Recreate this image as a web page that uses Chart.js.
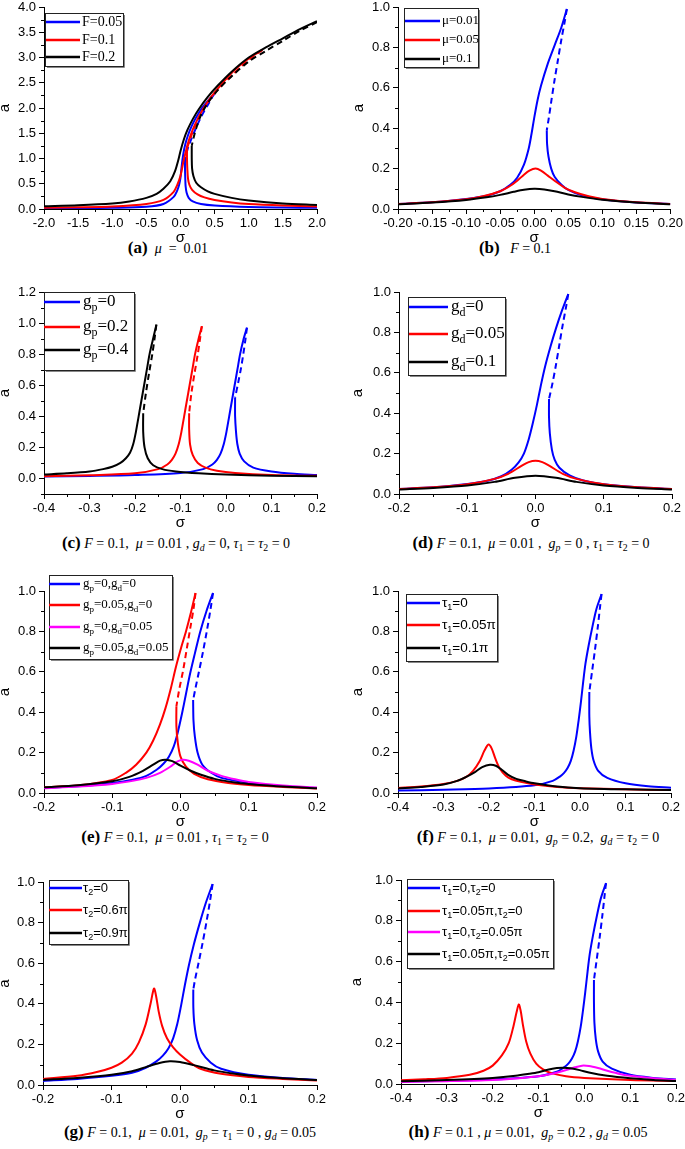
<!DOCTYPE html>
<html>
<head>
<meta charset="utf-8">
<script src="https://cdn.jsdelivr.net/npm/chart.js@4.4.1/dist/chart.umd.min.js"></script>
<style>
  body { margin: 0; background: #fff; width: 685px; height: 1149px; position: relative; overflow: hidden; }
  .cap { position: absolute; transform: translate(-50%, -50%); white-space: nowrap;
         font-family: "Liberation Serif", "Times New Roman", serif; font-size: 14px; color: #000; }
  .cap b { font-size: 17px; }
  .cap sub { font-size: 70%; vertical-align: -0.3em; line-height: 0; }
</style>
</head>
<body>
<div class="cap" style="left:168px;top:248px"><b>(a)</b>&nbsp;&nbsp;<i>μ</i>&nbsp; = &nbsp;0.01</div>
<div class="cap" style="left:515px;top:248px"><b>(b)</b>&nbsp;&nbsp; <i>F</i> = 0.1</div>
<div class="cap" style="left:176px;top:543px"><b>(c)</b> <i>F</i> = 0.1,&nbsp; <i>μ</i> = 0.01 , <i>g<sub>d</sub></i> = 0, <i>τ</i><sub>1</sub> = <i>τ</i><sub>2</sub> = 0</div>
<div class="cap" style="left:531px;top:543px"><b>(d)</b> <i>F</i> = 0.1,&nbsp; <i>μ</i> = 0.01 ,&nbsp; <i>g<sub>p</sub></i> = 0 , <i>τ</i><sub>1</sub> = <i>τ</i><sub>2</sub> = 0</div>
<div class="cap" style="left:175px;top:837px"><b>(e)</b> <i>F</i> = 0.1,&nbsp; <i>μ</i> = 0.01 , <i>τ</i><sub>1</sub> = <i>τ</i><sub>2</sub> = 0</div>
<div class="cap" style="left:538px;top:837px"><b>(f)</b> <i>F</i> = 0.1,&nbsp; <i>μ</i> = 0.01,&nbsp; <i>g<sub>p</sub></i> = 0.2,&nbsp; <i>g<sub>d</sub></i> = <i>τ</i><sub>2</sub> = 0</div>
<div class="cap" style="left:190px;top:1132px"><b>(g)</b> <i>F</i> = 0.1,&nbsp; <i>μ</i> = 0.01,&nbsp; <i>g<sub>p</sub></i> = <i>τ</i><sub>1</sub> = 0 , <i>g<sub>d</sub></i> = 0.05</div>
<div class="cap" style="left:528px;top:1132px"><b>(h)</b> <i>F</i> = 0.1 , <i>μ</i> = 0.01,&nbsp; <i>g<sub>p</sub></i> = 0.2 , <i>g<sub>d</sub></i> = 0.05</div>

<script>
// ---- data: [sigma, a] points ----

// (a) mu = 0.01
const aBlueUp   = [[-2,0.012],[-1.5,0.016],[-1,0.024],[-0.5,0.046],[-0.25,0.1],[-0.1,0.24],[-0.05,0.36],[-0.02,0.48],[0,0.62],[0.02,0.88],[0.04,1.08],[0.07,1.28],[0.11,1.46],[0.16,1.63],[0.22,1.79],[0.3,1.97],[0.4,2.14],[0.5,2.29]];
const aBlueDash = [[0.5,2.29],[0.45,2.18],[0.4,2.06],[0.3,1.82],[0.2,1.52],[0.12,1.25],[0.085,1.1],[0.066,1.03]];
const aBlueLow  = [[0.066,1.03],[0.066,0.8],[0.07,0.6],[0.075,0.45],[0.09,0.32],[0.12,0.22],[0.18,0.15],[0.3,0.1],[0.5,0.07],[1,0.04],[1.5,0.03],[2,0.025]];
const aRedUp    = [[-2,0.025],[-1.5,0.033],[-1,0.05],[-0.5,0.1],[-0.25,0.18],[-0.1,0.34],[-0.05,0.47],[0,0.66],[0.04,0.92],[0.08,1.15],[0.12,1.35],[0.18,1.57],[0.25,1.78],[0.35,2.02],[0.45,2.22],[0.6,2.47],[0.8,2.76],[1.0,2.98],[1.2,3.15]];
const aRedDash  = [[1.2,3.15],[1.0,2.96],[0.75,2.64],[0.6,2.44],[0.5,2.29],[0.4,2.11],[0.3,1.9],[0.2,1.6],[0.15,1.42],[0.11,1.26],[0.095,1.2]];
const aRedLow   = [[0.095,1.2],[0.095,1.0],[0.1,0.8],[0.11,0.6],[0.13,0.48],[0.17,0.38],[0.25,0.29],[0.35,0.23],[0.5,0.18],[0.75,0.13],[1,0.1],[1.5,0.07],[2,0.05]];
const aBlackUp  = [[-2,0.055],[-1.5,0.075],[-1,0.11],[-0.75,0.15],[-0.5,0.22],[-0.35,0.3],[-0.25,0.4],[-0.15,0.55],[-0.08,0.75],[-0.03,0.98],[0,1.15],[0.05,1.38],[0.1,1.56],[0.18,1.78],[0.27,1.98],[0.4,2.22],[0.55,2.45],[0.75,2.72],[1,3.0],[1.25,3.2],[1.5,3.38],[1.75,3.56],[2,3.72]];
const aBlackDash= [[2,3.7],[1.75,3.53],[1.5,3.33],[1.25,3.13],[1.0,2.92],[0.75,2.63],[0.55,2.36],[0.4,2.1],[0.3,1.86],[0.23,1.6],[0.19,1.4],[0.165,1.25]];
const aBlackLow = [[0.165,1.25],[0.165,1.0],[0.17,0.8],[0.19,0.65],[0.23,0.52],[0.3,0.43],[0.4,0.35],[0.5,0.3],[0.75,0.22],[1,0.17],[1.5,0.11],[2,0.08]];

// (b) F = 0.1
const bBlueUp   = [[-0.2,0.025],[-0.15,0.033],[-0.1,0.05],[-0.07,0.066],[-0.05,0.088],[-0.035,0.12],[-0.025,0.155],[-0.015,0.22],[-0.008,0.3],[-0.004,0.37],[0,0.45],[0.005,0.54],[0.01,0.61],[0.02,0.72],[0.03,0.81],[0.04,0.9],[0.048,0.99]];
const bBlueDash = [[0.048,0.99],[0.045,0.93],[0.04,0.84],[0.035,0.74],[0.03,0.64],[0.025,0.53],[0.021,0.44],[0.0185,0.39]];
const bBlueLow  = [[0.0185,0.39],[0.019,0.32],[0.021,0.26],[0.025,0.2],[0.03,0.16],[0.04,0.12],[0.05,0.095],[0.07,0.068],[0.1,0.048],[0.15,0.032],[0.2,0.025]];
const bRed      = [[-0.2,0.025],[-0.15,0.033],[-0.1,0.048],[-0.075,0.063],[-0.05,0.088],[-0.035,0.115],[-0.025,0.14],[-0.015,0.17],[-0.007,0.19],[0.002,0.2],[0.01,0.19],[0.02,0.165],[0.03,0.14],[0.045,0.105],[0.06,0.083],[0.08,0.063],[0.1,0.05],[0.15,0.033],[0.2,0.025]];
const bBlack    = [[-0.2,0.023],[-0.15,0.032],[-0.1,0.045],[-0.07,0.058],[-0.05,0.07],[-0.03,0.085],[-0.015,0.095],[0,0.1],[0.015,0.097],[0.03,0.088],[0.05,0.072],[0.07,0.06],[0.1,0.046],[0.15,0.032],[0.2,0.024]];

// (c) g_p
const cBlueUp   = [[-0.4,0.012],[-0.3,0.016],[-0.2,0.022],[-0.1,0.035],[-0.05,0.06],[-0.03,0.09],[-0.02,0.12],[-0.012,0.16],[-0.005,0.22],[0.001,0.3],[0.007,0.4],[0.013,0.5],[0.019,0.6],[0.025,0.7],[0.031,0.8],[0.038,0.89],[0.046,0.97]];
const cBlueDash = [[0.046,0.97],[0.043,0.9],[0.038,0.8],[0.033,0.71],[0.027,0.62],[0.02,0.52]];
const cBlueLow  = [[0.02,0.52],[0.02,0.4],[0.022,0.3],[0.025,0.22],[0.03,0.16],[0.04,0.11],[0.06,0.07],[0.1,0.045],[0.15,0.03],[0.2,0.022]];
const cRedUp    = [[-0.4,0.014],[-0.3,0.021],[-0.2,0.033],[-0.149,0.06],[-0.129,0.09],[-0.119,0.12],[-0.111,0.16],[-0.104,0.22],[-0.098,0.3],[-0.092,0.4],[-0.086,0.5],[-0.08,0.6],[-0.074,0.7],[-0.068,0.8],[-0.061,0.89],[-0.053,0.98]];
const cRedDash  = [[-0.053,0.98],[-0.057,0.9],[-0.062,0.8],[-0.069,0.68],[-0.076,0.55],[-0.081,0.42]];
const cRedLow   = [[-0.081,0.42],[-0.081,0.32],[-0.079,0.22],[-0.073,0.15],[-0.062,0.1],[-0.045,0.07],[-0.02,0.05],[0.02,0.035],[0.1,0.022],[0.2,0.017]];
const cBlackUp  = [[-0.4,0.025],[-0.35,0.033],[-0.3,0.045],[-0.27,0.06],[-0.25,0.075],[-0.232,0.1],[-0.22,0.13],[-0.211,0.165],[-0.204,0.22],[-0.198,0.3],[-0.192,0.4],[-0.186,0.5],[-0.18,0.6],[-0.174,0.7],[-0.168,0.8],[-0.161,0.89],[-0.153,0.99]];
const cBlackDash= [[-0.153,0.99],[-0.157,0.9],[-0.162,0.8],[-0.169,0.68],[-0.176,0.55],[-0.182,0.42]];
const cBlackLow = [[-0.182,0.42],[-0.182,0.3],[-0.179,0.2],[-0.172,0.13],[-0.16,0.085],[-0.14,0.06],[-0.11,0.045],[-0.06,0.033],[0,0.025],[0.1,0.018],[0.2,0.014]];

// (d) g_d
const dBlueUp   = [[-0.2,0.025],[-0.15,0.033],[-0.1,0.05],[-0.07,0.066],[-0.05,0.088],[-0.035,0.12],[-0.025,0.155],[-0.017,0.2],[-0.01,0.27],[-0.004,0.35],[0.002,0.44],[0.008,0.54],[0.014,0.63],[0.022,0.73],[0.03,0.82],[0.039,0.91],[0.048,0.99]];
const dBlueDash = [[0.048,0.99],[0.045,0.93],[0.04,0.84],[0.035,0.74],[0.03,0.64],[0.025,0.55],[0.0198,0.47]];
const dBlueLow  = [[0.0198,0.47],[0.0198,0.38],[0.021,0.3],[0.024,0.22],[0.028,0.17],[0.035,0.13],[0.05,0.092],[0.07,0.067],[0.1,0.048],[0.15,0.033],[0.2,0.025]];
const dRed      = [[-0.2,0.025],[-0.15,0.033],[-0.1,0.048],[-0.06,0.075],[-0.04,0.1],[-0.02,0.14],[-0.01,0.158],[0,0.165],[0.01,0.158],[0.02,0.14],[0.04,0.1],[0.06,0.075],[0.1,0.048],[0.15,0.033],[0.2,0.025]];
const dBlack    = [[-0.2,0.022],[-0.15,0.03],[-0.1,0.042],[-0.06,0.06],[-0.03,0.08],[0,0.09],[0.03,0.08],[0.06,0.06],[0.1,0.042],[0.15,0.03],[0.2,0.022]];

// (e) g_p, g_d combined
const eBlueUp   = [[-0.2,0.025],[-0.15,0.033],[-0.1,0.05],[-0.07,0.066],[-0.05,0.085],[-0.035,0.115],[-0.025,0.145],[-0.017,0.18],[-0.01,0.23],[-0.004,0.3],[0.002,0.39],[0.008,0.49],[0.014,0.59],[0.021,0.69],[0.029,0.8],[0.038,0.9],[0.0476,0.99]];
const eBlueDash = [[0.0476,0.99],[0.044,0.91],[0.039,0.81],[0.033,0.7],[0.027,0.6],[0.022,0.52],[0.0185,0.46]];
const eBlueLow  = [[0.0185,0.46],[0.019,0.36],[0.021,0.28],[0.025,0.2],[0.032,0.14],[0.045,0.1],[0.06,0.075],[0.1,0.05],[0.15,0.033],[0.2,0.025]];
const eRedUp    = [[-0.2,0.028],[-0.15,0.038],[-0.1,0.065],[-0.08,0.1],[-0.065,0.14],[-0.05,0.2],[-0.04,0.26],[-0.03,0.34],[-0.022,0.42],[-0.014,0.52],[-0.007,0.62],[0.001,0.72],[0.008,0.8],[0.015,0.89],[0.022,0.99]];
const eRedDash  = [[0.022,0.99],[0.019,0.91],[0.014,0.81],[0.009,0.71],[0.004,0.61],[-0.002,0.51],[-0.006,0.43]];
const eRedLow   = [[-0.006,0.43],[-0.006,0.33],[-0.004,0.25],[0,0.18],[0.008,0.13],[0.02,0.095],[0.04,0.068],[0.07,0.05],[0.1,0.04],[0.15,0.03],[0.2,0.022]];
const eMagenta  = [[-0.2,0.024],[-0.15,0.032],[-0.1,0.045],[-0.07,0.06],[-0.05,0.075],[-0.03,0.1],[-0.015,0.13],[-0.005,0.155],[0.003,0.165],[0.012,0.16],[0.025,0.14],[0.04,0.11],[0.06,0.085],[0.08,0.068],[0.1,0.055],[0.15,0.037],[0.2,0.027]];
const eBlack    = [[-0.2,0.028],[-0.15,0.038],[-0.1,0.058],[-0.075,0.08],[-0.055,0.11],[-0.04,0.14],[-0.03,0.16],[-0.022,0.165],[-0.012,0.158],[0,0.135],[0.015,0.11],[0.03,0.09],[0.05,0.07],[0.08,0.052],[0.1,0.045],[0.15,0.032],[0.2,0.024]];

// (f) tau_1
const fBlueUp   = [[-0.4,0.012],[-0.3,0.016],[-0.2,0.022],[-0.1,0.038],[-0.06,0.06],[-0.045,0.08],[-0.035,0.1],[-0.027,0.125],[-0.02,0.16],[-0.014,0.21],[-0.008,0.28],[-0.003,0.36],[0.002,0.45],[0.007,0.55],[0.012,0.64],[0.019,0.73],[0.027,0.82],[0.036,0.91],[0.0474,0.985]];
const fBlueDash = [[0.0474,0.985],[0.044,0.92],[0.039,0.82],[0.033,0.71],[0.027,0.61],[0.0205,0.5]];
const fBlueLow  = [[0.0205,0.5],[0.0205,0.38],[0.022,0.3],[0.025,0.22],[0.03,0.16],[0.04,0.11],[0.06,0.075],[0.1,0.048],[0.15,0.033],[0.2,0.026]];
const fRed      = [[-0.4,0.025],[-0.35,0.032],[-0.3,0.045],[-0.27,0.06],[-0.25,0.08],[-0.235,0.11],[-0.22,0.16],[-0.21,0.21],[-0.201,0.24],[-0.194,0.22],[-0.186,0.17],[-0.176,0.12],[-0.163,0.085],[-0.15,0.068],[-0.13,0.055],[-0.1,0.042],[-0.05,0.03],[0,0.024],[0.1,0.018],[0.2,0.015]];
const fBlack    = [[-0.4,0.022],[-0.35,0.03],[-0.3,0.042],[-0.27,0.06],[-0.25,0.08],[-0.23,0.105],[-0.215,0.128],[-0.198,0.14],[-0.185,0.135],[-0.172,0.115],[-0.158,0.09],[-0.14,0.07],[-0.12,0.058],[-0.1,0.048],[-0.05,0.032],[0,0.024],[0.1,0.018],[0.2,0.015]];

// (g) tau_2
const gBlueUp   = [[-0.2,0.02],[-0.15,0.03],[-0.1,0.045],[-0.07,0.06],[-0.05,0.085],[-0.035,0.115],[-0.025,0.145],[-0.017,0.18],[-0.01,0.23],[-0.004,0.3],[0.0015,0.39],[0.007,0.49],[0.013,0.59],[0.02,0.69],[0.029,0.8],[0.038,0.9],[0.0476,0.99]];
const gBlueDash = [[0.0476,0.99],[0.044,0.91],[0.039,0.81],[0.033,0.7],[0.027,0.6],[0.022,0.52],[0.0194,0.47]];
const gBlueLow  = [[0.0194,0.47],[0.0195,0.38],[0.021,0.3],[0.025,0.22],[0.032,0.16],[0.045,0.11],[0.06,0.08],[0.1,0.05],[0.15,0.035],[0.2,0.025]];
const gRed      = [[-0.2,0.03],[-0.15,0.045],[-0.12,0.065],[-0.1,0.085],[-0.085,0.11],[-0.07,0.155],[-0.06,0.21],[-0.05,0.3],[-0.043,0.4],[-0.038,0.475],[-0.035,0.44],[-0.031,0.36],[-0.026,0.29],[-0.019,0.23],[-0.01,0.185],[0,0.15],[0.015,0.11],[0.03,0.08],[0.06,0.055],[0.1,0.04],[0.15,0.03],[0.2,0.022]];
const gBlack    = [[-0.2,0.025],[-0.15,0.035],[-0.1,0.05],[-0.07,0.068],[-0.05,0.088],[-0.03,0.108],[-0.015,0.117],[0,0.113],[0.02,0.098],[0.05,0.072],[0.08,0.055],[0.1,0.047],[0.15,0.033],[0.2,0.025]];

// (h) tau_1, tau_2 combined
const hBlueUp   = [[-0.4,0.012],[-0.3,0.016],[-0.2,0.022],[-0.1,0.038],[-0.06,0.06],[-0.045,0.08],[-0.035,0.1],[-0.027,0.125],[-0.02,0.16],[-0.014,0.21],[-0.008,0.28],[-0.003,0.36],[0.002,0.45],[0.007,0.55],[0.012,0.64],[0.019,0.73],[0.027,0.82],[0.036,0.91],[0.0473,0.985]];
const hBlueDash = [[0.0473,0.985],[0.044,0.92],[0.039,0.82],[0.033,0.71],[0.027,0.61],[0.021,0.51]];
const hBlueLow  = [[0.021,0.51],[0.021,0.4],[0.022,0.3],[0.025,0.22],[0.03,0.16],[0.04,0.11],[0.06,0.075],[0.1,0.045],[0.15,0.03],[0.2,0.022]];
const hRed      = [[-0.4,0.018],[-0.35,0.023],[-0.3,0.03],[-0.25,0.045],[-0.22,0.065],[-0.2,0.09],[-0.18,0.14],[-0.165,0.2],[-0.155,0.28],[-0.148,0.35],[-0.143,0.39],[-0.139,0.36],[-0.134,0.29],[-0.127,0.21],[-0.118,0.15],[-0.105,0.1],[-0.09,0.072],[-0.07,0.052],[-0.04,0.038],[0,0.03],[0.1,0.02],[0.2,0.015]];
const hMagenta  = [[-0.4,0.01],[-0.3,0.014],[-0.2,0.02],[-0.15,0.027],[-0.1,0.038],[-0.07,0.05],[-0.04,0.068],[-0.02,0.082],[-0.005,0.09],[0.01,0.088],[0.03,0.078],[0.05,0.065],[0.08,0.048],[0.1,0.04],[0.15,0.028],[0.2,0.02]];
const hBlack    = [[-0.4,0.013],[-0.3,0.02],[-0.2,0.03],[-0.15,0.04],[-0.12,0.05],[-0.1,0.058],[-0.08,0.07],[-0.06,0.078],[-0.045,0.08],[-0.03,0.077],[-0.01,0.068],[0.01,0.056],[0.05,0.04],[0.1,0.028],[0.15,0.02],[0.2,0.015]];

// tick values
const ticksA_x = [-2,-1.5,-1,-0.5,0,0.5,1,1.5,2];
const ticksA_y = [0,0.5,1,1.5,2,2.5,3,3.5,4];
const ticksB_x = [-0.2,-0.15,-0.1,-0.05,0,0.05,0.1,0.15,0.2];
const ticksWide_x = [-0.4,-0.3,-0.2,-0.1,0,0.1,0.2];
const ticksNarrow_x = [-0.2,-0.1,0,0.1,0.2];
const ticksUnit_y = [0,0.2,0.4,0.6,0.8,1.0];
const ticksC_y = [0,0.2,0.4,0.6,0.8,1.0,1.2];

// legend labels ("_" puts the next char in subscript)
const labelsA = ['F=0.05','F=0.1','F=0.2'];
const labelsB = ['μ=0.01','μ=0.05','μ=0.1'];
const labelsC = ['g_p=0','g_p=0.2','g_p=0.4'];
const labelsD = ['g_d=0','g_d=0.05','g_d=0.1'];
const labelsE = ['g_p=0,g_d=0','g_p=0.05,g_d=0','g_p=0,g_d=0.05','g_p=0.05,g_d=0.05'];
const labelsF = ['τ_1=0','τ_1=0.05π','τ_1=0.1π'];
const labelsG = ['τ_2=0','τ_2=0.6π','τ_2=0.9π'];
const labelsH = ['τ_1=0,τ_2=0','τ_1=0.05π,τ_2=0','τ_1=0,τ_2=0.05π','τ_1=0.05π,τ_2=0.05π'];

const SANS = '"Liberation Sans", Arial, sans-serif';
const SERIF = '"Liberation Serif", "Times New Roman", serif';
const BLUE = '#0000ff', RED = '#ff0000', BLACK = '#000000', MAGENTA = '#ff00ff';

function curve(pts, color, dashed, layer) {
    return {
        data: pts.map(p => ({ x: p[0], y: p[1] })),
        borderColor: color,
        backgroundColor: color,
        borderWidth: 2,
        borderDash: dashed ? [6, 4] : [],
        showLine: true,
        pointRadius: 0,
        tension: 0.3,
        order: 10 - layer      // later series drawn on top
    };
}

// text with single-char subscripts
function drawRich(ctx, text, x, y, size, family) {
    let cx = x;
    for (let i = 0; i < text.length; i++) {
        let ch = text[i], sub = false;
        if (ch === '_') { ch = text[++i]; sub = true; }
        ctx.font = (sub ? Math.round(size * 0.7) : size) + 'px ' + family;
        ctx.fillText(ch, cx, sub ? y + size * 0.35 : y);
        cx += ctx.measureText(ch).width;
    }
}

function makePanel(p) {
    const x = p.titleX - 9, y = p.T - 20;
    const w = p.R + 14 - x, h = p.B + 38 - y;
    const cv = document.createElement('canvas');
    cv.width = w; cv.height = h;
    cv.style.cssText = `position:absolute;left:${x}px;top:${y}px;width:${w}px;height:${h}px`;
    document.body.appendChild(cv);

    const minorTicks = {
        id: 'minorTicks',
        afterDraw(chart) {
            const ctx = chart.ctx;
            ctx.save();
            ctx.strokeStyle = '#000';
            ctx.lineWidth = 1;
            [['x', p.xMinor], ['y', p.yMinor]].forEach(([id, step]) => {
                const s = chart.scales[id];
                for (let k = Math.ceil(s.min / step - 1e-6); k <= Math.floor(s.max / step + 1e-6); k++) {
                    const v = k * step;
                    if (s.ticks.some(t => Math.abs(t.value - v) < step / 10)) continue;
                    const px = Math.round(s.getPixelForValue(v)) + 0.5;
                    ctx.beginPath();
                    if (id === 'x') { ctx.moveTo(px, s.top); ctx.lineTo(px, s.top + 3); }
                    else { ctx.moveTo(s.right, px); ctx.lineTo(s.right - 3, px); }
                    ctx.stroke();
                }
            });
            ctx.restore();
        }
    };

    const lg = p.legend;
    const boxLegend = {
        id: 'boxLegend',
        afterDraw(chart) {
            const ctx = chart.ctx;
            ctx.save();
            const bx0 = lg.box[0] - x, by0 = lg.box[1] - y, bx1 = lg.box[2] - x, by1 = lg.box[3] - y;
            ctx.fillStyle = '#fff';
            ctx.fillRect(bx0, by0, bx1 - bx0, by1 - by0);
            ctx.strokeStyle = '#888';
            ctx.lineWidth = 1;
            ctx.beginPath();
            ctx.moveTo(bx1 + 1.5, by0 + 2); ctx.lineTo(bx1 + 1.5, by1 + 1.5); ctx.lineTo(bx0 + 2, by1 + 1.5);
            ctx.stroke();
            ctx.strokeStyle = '#222';
            ctx.strokeRect(bx0 + 0.5, by0 + 0.5, bx1 - bx0, by1 - by0);
            ctx.textBaseline = 'middle';
            ctx.fillStyle = '#000';
            lg.labels.forEach((lab, i) => {
                const ry = lg.rows[i] - y;
                ctx.strokeStyle = lg.colors[i];
                ctx.lineWidth = 2.5;
                ctx.beginPath();
                ctx.moveTo(lg.line[0] - x, ry); ctx.lineTo(lg.line[1] - x, ry);
                ctx.stroke();
                drawRich(ctx, lab, lg.textX - x, ry, lg.size, lg.family);
            });
            ctx.restore();
        }
    };

    const tickFont = { family: SANS, size: 13 };
    const titleFont = { family: SANS, size: 15 };

    new Chart(cv, {
        type: 'scatter',
        data: { datasets: p.datasets },
        options: {
            responsive: false,
            animation: false,
            layout: { padding: { top: p.T - y, right: x + w - p.R, left: 0, bottom: 0 } },
            plugins: { legend: { display: false }, tooltip: { enabled: false } },
            scales: {
                x: {
                    type: 'linear', min: p.xMin, max: p.xMax,
                    afterBuildTicks: s => { s.ticks = p.xTicks.map(v => ({ value: v })); },
                    afterFit: s => { s.height = h - (p.B - y); },
                    ticks: { autoSkip: false, maxRotation: 0, padding: 2, font: tickFont, color: '#000',
                             callback: v => v.toFixed(p.xDec) },
                    grid: { drawOnChartArea: false, tickLength: 5, color: '#000' },
                    border: { color: '#000', width: 1 },
                    title: { display: true, text: 'σ', font: titleFont, color: '#000', padding: 0 }
                },
                y: {
                    type: 'linear', min: p.yMin, max: p.yMax,
                    afterBuildTicks: s => { s.ticks = p.yTicks.map(v => ({ value: v })); },
                    afterFit: s => { s.width = p.L - x; },
                    ticks: { autoSkip: false, padding: 3, font: tickFont, color: '#000',
                             callback: v => v.toFixed(1) },
                    grid: { drawOnChartArea: false, tickLength: 5, color: '#000' },
                    border: { color: '#000', width: 1 },
                    title: { display: true, text: 'a', font: titleFont, color: '#000', padding: 0 }
                }
            }
        },
        plugins: [minorTicks, boxLegend]
    });
}

const C3 = [BLUE, RED, BLACK];
const C4 = [BLUE, RED, MAGENTA, BLACK];

window.onload = () => {
    makePanel({
        L: 44, T: 7, R: 317, B: 209, titleX: 5,
        xMin: -2, xMax: 2, yMin: 0, yMax: 4, xTicks: ticksA_x, yTicks: ticksA_y, xDec: 1, xMinor: 0.25, yMinor: 0.25,
        datasets: [
            curve(aBlueUp, BLUE, false, 0), curve(aBlueDash, BLUE, true, 0), curve(aBlueLow, BLUE, false, 0),
            curve(aRedUp, RED, false, 1), curve(aRedDash, RED, true, 1), curve(aRedLow, RED, false, 1),
            curve(aBlackUp, BLACK, false, 2), curve(aBlackDash, BLACK, true, 2), curve(aBlackLow, BLACK, false, 2)
        ],
        legend: { box: [45, 13, 123, 66], line: [46, 80], textX: 82, rows: [22, 40, 57], size: 14, family: SERIF, labels: labelsA, colors: C3 }
    });
    makePanel({
        L: 398, T: 7, R: 671, B: 209, titleX: 359,
        xMin: -0.2, xMax: 0.2, yMin: 0, yMax: 1, xTicks: ticksB_x, yTicks: ticksUnit_y, xDec: 2, xMinor: 0.025, yMinor: 0.1,
        datasets: [
            curve(bBlueUp, BLUE, false, 0), curve(bBlueDash, BLUE, true, 0), curve(bBlueLow, BLUE, false, 0),
            curve(bRed, RED, false, 1), curve(bBlack, BLACK, false, 2)
        ],
        legend: { box: [404, 8, 478, 67], line: [405, 440], textX: 442, rows: [21, 40, 59], size: 13, family: SERIF, labels: labelsB, colors: C3 }
    });
    makePanel({
        L: 44, T: 292, R: 317, B: 494, titleX: 5,
        xMin: -0.4, xMax: 0.2, yMin: -0.1, yMax: 1.2, xTicks: ticksWide_x, yTicks: ticksC_y, xDec: 1, xMinor: 0.05, yMinor: 0.1,
        datasets: [
            curve(cBlueUp, BLUE, false, 0), curve(cBlueDash, BLUE, true, 0), curve(cBlueLow, BLUE, false, 0),
            curve(cRedUp, RED, false, 1), curve(cRedDash, RED, true, 1), curve(cRedLow, RED, false, 1),
            curve(cBlackUp, BLACK, false, 2), curve(cBlackDash, BLACK, true, 2), curve(cBlackLow, BLACK, false, 2)
        ],
        legend: { box: [44, 292, 134, 370], line: [44, 80], textX: 83, rows: [302, 327, 350], size: 17, family: SERIF, labels: labelsC, colors: C3 }
    });
    makePanel({
        L: 399, T: 292, R: 672, B: 494, titleX: 358,
        xMin: -0.2, xMax: 0.2, yMin: 0, yMax: 1, xTicks: ticksNarrow_x, yTicks: ticksUnit_y, xDec: 1, xMinor: 0.05, yMinor: 0.1,
        datasets: [
            curve(dBlueUp, BLUE, false, 0), curve(dBlueDash, BLUE, true, 0), curve(dBlueLow, BLUE, false, 0),
            curve(dRed, RED, false, 1), curve(dBlack, BLACK, false, 2)
        ],
        legend: { box: [408, 297, 505, 375], line: [409, 448], textX: 451, rows: [307, 334, 362], size: 17, family: SERIF, labels: labelsD, colors: C3 }
    });
    makePanel({
        L: 44, T: 591, R: 317, B: 793, titleX: 5,
        xMin: -0.2, xMax: 0.2, yMin: 0, yMax: 1, xTicks: ticksNarrow_x, yTicks: ticksUnit_y, xDec: 1, xMinor: 0.05, yMinor: 0.1,
        datasets: [
            curve(eBlueUp, BLUE, false, 0), curve(eBlueDash, BLUE, true, 0), curve(eBlueLow, BLUE, false, 0),
            curve(eRedUp, RED, false, 1), curve(eRedDash, RED, true, 1), curve(eRedLow, RED, false, 1),
            curve(eMagenta, MAGENTA, false, 2), curve(eBlack, BLACK, false, 3)
        ],
        legend: { box: [49, 575, 172, 659], line: [49, 80], textX: 83, rows: [584, 605, 627, 648], size: 13, family: SERIF, labels: labelsE, colors: C4 }
    });
    makePanel({
        L: 398, T: 591, R: 671, B: 793, titleX: 358,
        xMin: -0.4, xMax: 0.2, yMin: 0, yMax: 1, xTicks: ticksWide_x, yTicks: ticksUnit_y, xDec: 1, xMinor: 0.05, yMinor: 0.1,
        datasets: [
            curve(fBlueUp, BLUE, false, 0), curve(fBlueDash, BLUE, true, 0), curve(fBlueLow, BLUE, false, 0),
            curve(fRed, RED, false, 1), curve(fBlack, BLACK, false, 2)
        ],
        legend: { box: [406, 594, 497, 661], line: [407, 440], textX: 442, rows: [603, 625, 648], size: 13.5, family: SANS, labels: labelsF, colors: C3 }
    });
    makePanel({
        L: 43, T: 882, R: 317, B: 1085, titleX: 5,
        xMin: -0.2, xMax: 0.2, yMin: 0, yMax: 1, xTicks: ticksNarrow_x, yTicks: ticksUnit_y, xDec: 1, xMinor: 0.05, yMinor: 0.1,
        datasets: [
            curve(gBlueUp, BLUE, false, 0), curve(gBlueDash, BLUE, true, 0), curve(gBlueLow, BLUE, false, 0),
            curve(gRed, RED, false, 1), curve(gBlack, BLACK, false, 2)
        ],
        legend: { box: [49, 880, 128, 944], line: [49, 82], textX: 83, rows: [888, 910, 933], size: 13, family: SANS, labels: labelsG, colors: C3 }
    });
    makePanel({
        L: 401, T: 880, R: 676, B: 1084, titleX: 357,
        xMin: -0.4, xMax: 0.2, yMin: 0, yMax: 1, xTicks: ticksWide_x, yTicks: ticksUnit_y, xDec: 1, xMinor: 0.05, yMinor: 0.1,
        datasets: [
            curve(hBlueUp, BLUE, false, 0), curve(hBlueDash, BLUE, true, 0), curve(hBlueLow, BLUE, false, 0),
            curve(hRed, RED, false, 1), curve(hMagenta, MAGENTA, false, 2), curve(hBlack, BLACK, false, 3)
        ],
        legend: { box: [407, 879, 553, 968], line: [408, 440], textX: 442, rows: [888, 911, 932, 954], size: 13, family: SANS, labels: labelsH, colors: C4 }
    });
};
</script>
</body>
</html>
